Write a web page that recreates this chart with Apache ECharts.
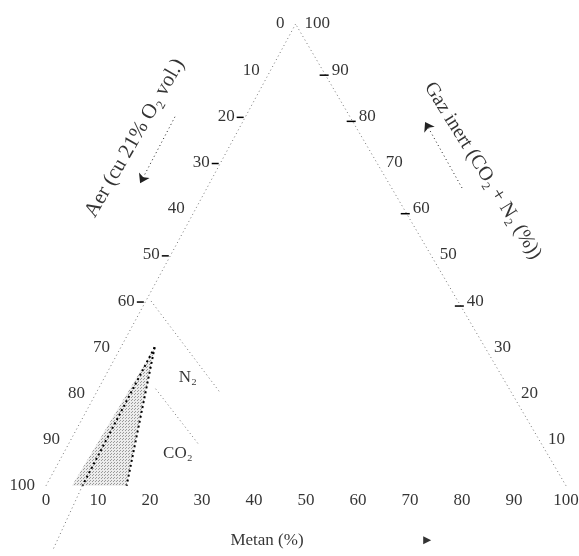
<!DOCTYPE html>
<html>
<head>
<meta charset="utf-8">
<script src="https://cdn.jsdelivr.net/npm/echarts@6/dist/echarts.min.js"></script>
<style>
html, body { margin: 0; background: #fff; }
#main { width: 579px; height: 556px; }
</style>
</head>
<body>
<div id="main"></div>
<script>
var myChart = echarts.init(document.getElementById('main'));

// diagrama ternara: [metan, gaz inert] (aerul e restul pana la 100)
var ticks = [0, 10, 20, 30, 40, 50, 60, 70, 80, 90, 100];
var rightTicks = [10, 20, 30, 40, 50, 60, 70, 80, 90, 100];
var leftDash = [20, 30, 50, 60];
var rightDash = [90, 80, 60, 40];

// zona explozivă si dreptele din jurul ei, ca [metan %, inert %]
var explosiveZone = [[5, 0], [15.5, 0], [6.5, 30]];
var lineA = [[6.5, 30], [7, 0]];
var lineAExt = [[7, 0], [8, -14]];
var lineB = [[6.5, 30], [15.5, 0]];
var lineN2 = [[1, 40], [24, 20]];
var lineCO2 = [[11, 21], [25, 9]];
var labelN2 = [16, 23.5];
var labelCO2 = [22, 7];

// adnotari in coordonate x/y ale graficului
var titleAer = [17.1, 75.3];
var titleInert = [84.0, 68.2];
var titleMetan = [42.5, -11.8];
var arrowAer = [[24.8, 79.9], [18.1, 65.5]];
var arrowInert = [[80, 64.5], [72.9, 78.8]];
var arrowMetan = [73.3, -11.8];

var APEX = 48; // varful triunghiului (% din baza), figura e usor strambata
function toXY(p) {
    return [p[0] + p[1] * APEX / 100, p[1]];
}

var serif = "'Liberation Serif', 'DejaVu Serif', serif";
var ink = '#000';
var dotted = { color: '#777', width: 1, type: [1, 3] };

// textura punctata pentru zona explozivă
var dots = document.createElement('canvas');
dots.width = 3;
dots.height = 3;
var dctx = dots.getContext('2d');
dctx.fillStyle = '#ececec';
dctx.fillRect(0, 0, 3, 3);
dctx.fillStyle = '#9a9a9a';
dctx.fillRect(0, 0, 1, 1);
dctx.fillRect(2, 1, 1, 1);

function edgeLabels(list, side) {
    return list.map(function (v) {
        var p;
        if (side === 'left') p = toXY([0, 100 - v]);
        else if (side === 'right') p = toXY([100 - v, v]);
        else p = toXY([v, 0]);
        return [p[0], p[1], v];
    });
}
function dashes(list, side) {
    return list.map(function (v) {
        var p = side === 'left' ? toXY([0, 100 - v]) : toXY([100 - v, v]);
        return [p[0], p[1], side === 'left' ? -1 : 1];
    });
}
function lineSeries(pts, style) {
    return {
        type: 'line',
        data: pts.map(toXY),
        symbol: 'none',
        silent: true,
        lineStyle: style,
        z: 3
    };
}
function tickLabels(list, side, position, distance) {
    return {
        type: 'scatter',
        symbolSize: 0,
        silent: true,
        data: edgeLabels(list, side),
        label: {
            show: true,
            position: position,
            distance: distance,
            formatter: function (p) { return p.value[2]; },
            fontFamily: serif,
            fontSize: 17,
            color: ink
        }
    };
}
function textPoint(pos, text, rotate, size) {
    return {
        type: 'scatter',
        symbolSize: 0,
        silent: true,
        data: [{
            value: pos,
            label: {
                show: true,
                position: 'inside',
                formatter: text,
                rotate: rotate,
                fontFamily: serif,
                fontSize: size,
                color: ink
            }
        }]
    };
}

option = {
    animation: false,
    backgroundColor: '#fff',
    grid: {
        left: 46,
        right: 13,
        top: 24,
        bottom: 1,
        outerBoundsMode: 'none'
    },
    xAxis: {
        type: 'value',
        min: 0,
        max: 100,
        interval: 10,
        show: false
    },
    yAxis: {
        type: 'value',
        min: -15,
        max: 100,
        show: false
    },
    series: [
        // zona explozivă
        {
            type: 'custom',
            silent: true,
            z: 1,
            data: [[0, 0]],
            renderItem: function (params, api) {
                var pts = explosiveZone.map(function (p) {
                    return api.coord(toXY(p));
                });
                return {
                    type: 'polygon',
                    shape: { points: pts },
                    style: { fill: { image: dots, repeat: 'repeat' } }
                };
            }
        },
        // laturile triunghiului
        lineSeries([[0, 0], [0, 100]], dotted),
        lineSeries([[100, 0], [0, 100]], dotted),
        lineSeries(lineA, { color: ink, width: 2, type: [2, 3] }),
        lineSeries(lineAExt, dotted),
        lineSeries(lineB, { color: ink, width: 2, type: [2, 3] }),
        lineSeries(lineN2, dotted),
        lineSeries(lineCO2, dotted),
        // gradatii pe laturi
        {
            type: 'custom',
            silent: true,
            z: 4,
            data: dashes(leftDash, 'left').concat(dashes(rightDash, 'right')),
            renderItem: function (params, api) {
                var p = api.coord([api.value(0), api.value(1)]);
                var s = api.value(2);
                var a = s < 0 ? -9 : -3;
                var b = s < 0 ? -2 : 6;
                var dy = s < 0 ? 1 : 5;
                return {
                    type: 'line',
                    shape: { x1: p[0] + a, y1: p[1] + dy, x2: p[0] + b, y2: p[1] + dy },
                    style: { stroke: ink, lineWidth: 1.5 }
                };
            }
        },
        tickLabels(ticks, 'left', 'left', 11),
        tickLabels(rightTicks, 'right', 'right', 9),
        tickLabels(ticks, 'bottom', 'bottom', 6),
        textPoint(toXY(labelN2), 'N₂', 0, 17),
        textPoint(toXY(labelCO2), 'CO₂', 0, 17),
        textPoint(titleAer, 'Aer (cu 21% O₂ vol.)', 60, 21),
        textPoint(titleInert, 'Gaz inert (CO₂ + N₂ (%))', -58, 20),
        textPoint(titleMetan, 'Metan (%)', 0, 17),
        {
            type: 'lines',
            coordinateSystem: 'cartesian2d',
            silent: true,
            symbol: ['none', 'arrow'],
            symbolSize: 9,
            lineStyle: { color: '#222', width: 1, type: [1, 3], opacity: 1 },
            data: [{ coords: arrowAer }, { coords: arrowInert }]
        },
        {
            type: 'scatter',
            silent: true,
            symbol: 'triangle',
            symbolRotate: -90,
            symbolSize: 8,
            itemStyle: { color: ink },
            data: [arrowMetan]
        }
    ]
};
myChart.setOption(option);
</script>
</body>
</html>
